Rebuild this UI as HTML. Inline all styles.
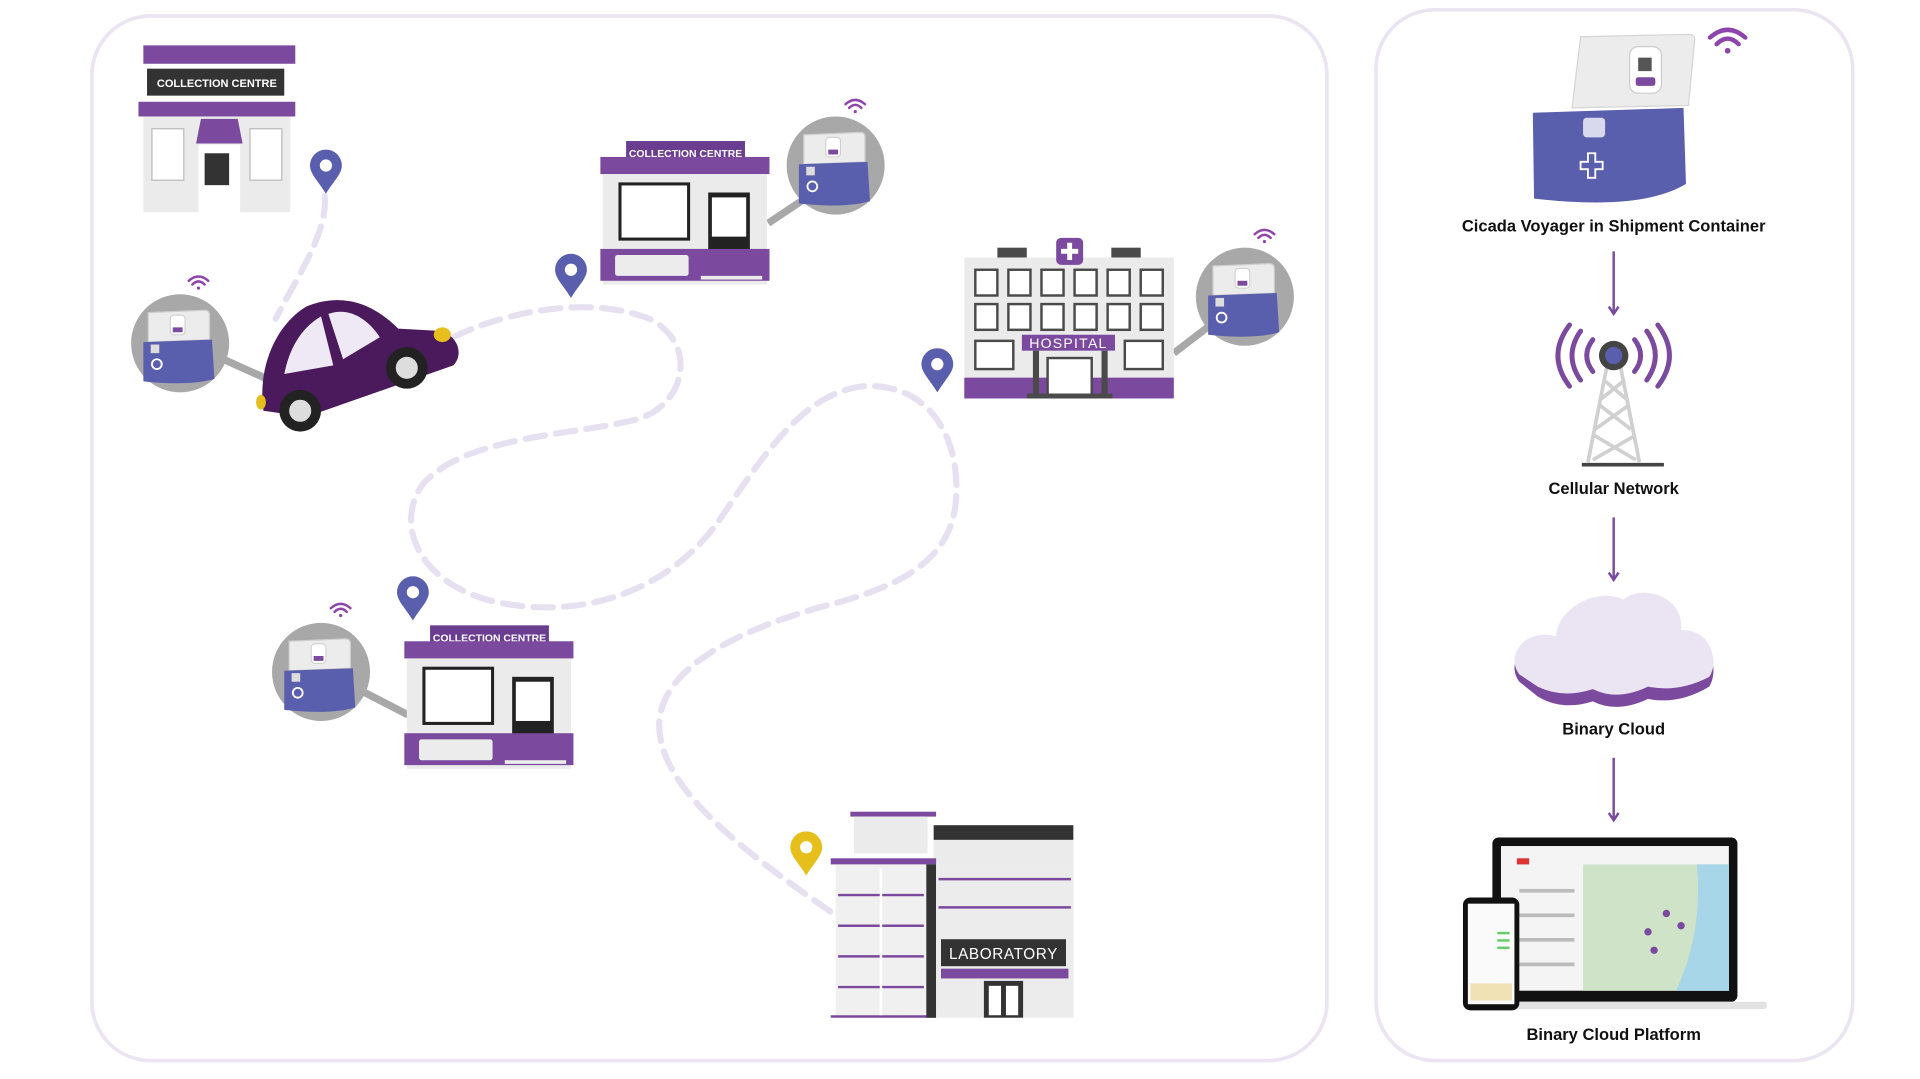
<!DOCTYPE html>
<html><head><meta charset="utf-8"><style>
html,body{margin:0;padding:0;background:#fff;width:1920px;height:1079px;overflow:hidden}
svg{display:block}
text{font-family:"Liberation Sans",sans-serif}
</style></head><body>
<svg width="1920" height="1079" viewBox="0 0 1567 880" preserveAspectRatio="none" xmlns="http://www.w3.org/2000/svg">
<defs>
<g id="box">
 <path d="M-24,-30 L22,-32 Q26,-32 26,-28 L26,-8 L-24,-6 Z" fill="#ececec" stroke="#cfcfcf" stroke-width="1"/>
 <rect x="-6" y="-28" width="12" height="16" rx="3" fill="#fff" stroke="#ccc" stroke-width="0.8"/>
 <rect x="-4" y="-18" width="8" height="4" fill="#7b4a9e"/>
 <path d="M-28,-6 L28,-8 L30,24 Q10,30 -28,26 Z" fill="#5a5fad"/>
 <rect x="-22" y="-4" width="7" height="7" fill="#ddd"/>
 <circle cx="-17" cy="12" r="4" fill="none" stroke="#fff" stroke-width="1.5"/>
</g>
<g id="wifi" fill="none" stroke="#8e44ad" stroke-width="2" stroke-linecap="round">
 <path d="M-8,-3 Q0,-10 8,-3"/><path d="M-5,0 Q0,-5 5,0"/><circle cx="0" cy="3" r="1.3" fill="#8e44ad" stroke="none"/>
</g>
<g id="pin"><path d="M0,18 C-6,8 -13,2 -13,-5 A13,13 0 0 1 13,-5 C13,2 6,8 0,18 Z"/><circle cx="0" cy="-5" r="5" fill="#fff"/></g>
<g id="cc">
 <rect x="21" y="0" width="97" height="18" fill="#6a3d91"/>
 <text x="69.5" y="13" font-size="8.5" fill="#fff" text-anchor="middle" font-weight="bold">COLLECTION CENTRE</text>
 <rect x="0" y="13" width="138" height="14" fill="#7b4a9e"/>
 <rect x="2" y="27" width="134" height="90" fill="#ebebeb"/>
 <rect x="16" y="35" width="56" height="45" fill="#fff" stroke="#222" stroke-width="2.5"/>
 <rect x="88" y="42" width="34" height="66" fill="#222"/>
 <rect x="91" y="46" width="28" height="32" fill="#fff"/>
 <rect x="0" y="88" width="138" height="26" fill="#7b4a9e"/>
 <rect x="12" y="93" width="60" height="17" rx="2" fill="#ececec"/>
 <rect x="82" y="110" width="50" height="3" fill="#ececec"/>
</g>
</defs>

<rect x="75" y="13" width="1008" height="852" rx="48" fill="none" stroke="#ebe5f3" stroke-width="3"/>
<rect x="1123" y="8" width="389" height="857" rx="48" fill="none" stroke="#ebe5f3" stroke-width="3"/>

<path d="M265,160 C268,190 240,230 225,260 M370,275 C410,255 480,240 530,260 C570,280 560,330 520,342 C470,355 380,355 345,395 C320,430 345,480 410,492 C480,505 550,480 590,420 C630,360 660,320 705,315 C760,312 785,360 780,410 C775,460 730,480 670,495 C600,515 540,545 538,590 C537,640 600,690 680,745"
 fill="none" stroke="#e6e0f0" stroke-width="5" stroke-dasharray="16 9" stroke-linecap="round"/>

<rect x="117" y="37" width="124" height="15" fill="#7b4a9e"/>
<rect x="120" y="56" width="112" height="22" fill="#333"/>
<text x="177" y="71" font-size="9" fill="#fff" text-anchor="middle" font-weight="bold">COLLECTION CENTRE</text>
<rect x="113" y="83" width="128" height="12" fill="#7b4a9e"/>
<rect x="117" y="95" width="120" height="78" fill="#ebebeb"/>
<rect x="124" y="105" width="26" height="42" fill="#fff" stroke="#bbb"/>
<rect x="204" y="105" width="26" height="42" fill="#fff" stroke="#bbb"/>
<path d="M160,117 L164,97 L194,97 L198,117 Z" fill="#7b4a9e"/>
<rect x="162" y="118" width="34" height="55" fill="#fff"/>
<rect x="167" y="125" width="20" height="26" fill="#333"/>

<use href="#pin" x="266" y="140" fill="#5a5fad"/>
<use href="#pin" x="466" y="225" fill="#5a5fad"/>
<use href="#pin" x="765" y="302" fill="#5a5fad"/>
<use href="#pin" x="337" y="488" fill="#5a5fad"/>
<use href="#pin" x="658" y="696" fill="#e6bf1c"/>

<line x1="180" y1="292" x2="220" y2="310" stroke="#a8a8a8" stroke-width="6"/>
<path d="M215,335 C210,300 225,265 250,250 C280,238 305,248 325,268 L360,270 C375,275 378,290 370,298 L250,340 Z" fill="#4a1a5c"/>
<path d="M232,305 C236,285 245,268 262,258 L272,298 Z" fill="#efe8f5"/>
<path d="M268,256 C285,250 300,260 310,275 L280,293 Z" fill="#efe8f5"/>
<circle cx="245" cy="335" r="17" fill="#222"/><circle cx="245" cy="335" r="9" fill="#ddd"/>
<circle cx="332" cy="300" r="17" fill="#222"/><circle cx="332" cy="300" r="9" fill="#ddd"/>
<ellipse cx="361" cy="273" rx="7" ry="6" fill="#e6bf1c"/>
<ellipse cx="213" cy="328" rx="4" ry="6" fill="#e6bf1c"/>

<circle cx="147" cy="280" r="40" fill="#a8a8a8"/><use href="#box" x="145" y="285"/><use href="#wifi" x="162" y="232"/>
<line x1="627" y1="182" x2="660" y2="160" stroke="#a8a8a8" stroke-width="6"/>
<circle cx="682" cy="135" r="40" fill="#a8a8a8"/><use href="#box" x="680" y="140"/><use href="#wifi" x="698" y="88"/>
<line x1="958" y1="288" x2="992" y2="262" stroke="#a8a8a8" stroke-width="6"/>
<circle cx="1016" cy="242" r="40" fill="#a8a8a8"/><use href="#box" x="1014" y="247"/><use href="#wifi" x="1032" y="194"/>
<line x1="298" y1="565" x2="333" y2="583" stroke="#a8a8a8" stroke-width="6"/>
<circle cx="262" cy="548" r="40" fill="#a8a8a8"/><use href="#box" x="260" y="553"/><use href="#wifi" x="278" y="499"/>

<use href="#cc" x="490" y="115"/>
<use href="#cc" x="330" y="510"/>

<rect x="814" y="202" width="24" height="9" fill="#4a4a4a"/>
<rect x="907" y="202" width="24" height="9" fill="#4a4a4a"/>
<rect x="787" y="210" width="171" height="115" fill="#ebebeb"/>
<rect x="862" y="194" width="22" height="22" rx="4" fill="#7b4a9e"/>
<path d="M873,198 v14 M866,205 h14" stroke="#fff" stroke-width="4"/>
<g fill="#fff" stroke="#4a4a4a" stroke-width="2">
<rect x="796" y="220" width="18" height="21"/><rect x="823" y="220" width="18" height="21"/><rect x="850" y="220" width="18" height="21"/><rect x="877" y="220" width="18" height="21"/><rect x="904" y="220" width="18" height="21"/><rect x="931" y="220" width="18" height="21"/>
<rect x="796" y="248" width="18" height="21"/><rect x="823" y="248" width="18" height="21"/><rect x="850" y="248" width="18" height="21"/><rect x="877" y="248" width="18" height="21"/><rect x="904" y="248" width="18" height="21"/><rect x="931" y="248" width="18" height="21"/>
<rect x="796" y="278" width="31" height="23"/><rect x="918" y="278" width="31" height="23"/>
</g>
<rect x="787" y="308" width="171" height="17" fill="#7b4a9e"/>
<rect x="834" y="273" width="76" height="13" fill="#7b4a9e"/>
<text x="872" y="284" font-size="11.5" fill="#fff" text-anchor="middle" letter-spacing="1">HOSPITAL</text>
<rect x="843" y="286" width="5" height="36" fill="#4a4a4a"/><rect x="899" y="286" width="5" height="36" fill="#4a4a4a"/>
<rect x="855" y="292" width="36" height="30" fill="#fff" stroke="#4a4a4a" stroke-width="2"/>
<rect x="838" y="321" width="70" height="4" fill="#4a4a4a"/>

<rect x="694" y="662" width="70" height="4" fill="#7b4a9e"/>
<rect x="697" y="666" width="60" height="30" fill="#ebebeb"/>
<rect x="762" y="673" width="114" height="12" fill="#333"/>
<rect x="762" y="685" width="114" height="20" fill="#ebebeb"/>
<rect x="678" y="700" width="86" height="5" fill="#7b4a9e"/>
<rect x="682" y="705" width="74" height="125" fill="#f0f0f0"/>
<g stroke="#7b4a9e" stroke-width="2"><line x1="684" y1="730" x2="754" y2="730"/><line x1="684" y1="755" x2="754" y2="755"/><line x1="684" y1="780" x2="754" y2="780"/><line x1="684" y1="805" x2="754" y2="805"/><line x1="678" y1="829" x2="764" y2="829"/></g>
<line x1="719" y1="708" x2="719" y2="828" stroke="#fff" stroke-width="2"/>
<rect x="756" y="705" width="8" height="125" fill="#333"/>
<rect x="764" y="705" width="112" height="125" fill="#ececec"/>
<g stroke="#7b4a9e" stroke-width="2"><line x1="766" y1="717" x2="874" y2="717"/><line x1="766" y1="740" x2="874" y2="740"/></g>
<rect x="768" y="766" width="102" height="22" fill="#333"/>
<text x="819" y="782" font-size="12.5" fill="#fff" text-anchor="middle" letter-spacing="0.5">LABORATORY</text>
<rect x="768" y="790" width="104" height="8" fill="#7b4a9e"/>
<rect x="803" y="800" width="32" height="30" fill="#333"/><rect x="807" y="804" width="10" height="24" fill="#fff"/><rect x="821" y="804" width="10" height="24" fill="#fff"/>

<g transform="translate(1410,36) scale(1.8)"><use href="#wifi"/></g>
<path d="M1290,30 L1378,28 Q1384,28 1383,34 L1378,86 L1283,88 Z" fill="#ececec" stroke="#d5d5d5"/>
<rect x="1330" y="38" width="26" height="38" rx="7" fill="#fff" stroke="#ccc"/>
<rect x="1337" y="47" width="11" height="11" fill="#555"/>
<rect x="1335" y="63" width="16" height="7" rx="2" fill="#7b4a9e"/>
<path d="M1251,92 L1374,88 L1376,150 Q1340,172 1252,162 Z" fill="#5a5fad"/>
<rect x="1292" y="96" width="18" height="16" rx="3" fill="#d9d9ee"/>
<path d="M1290,132 h6 v-7 h6 v7 h6 v6 h-6 v7 h-6 v-7 h-6 z" fill="none" stroke="#fff" stroke-width="1.5"/>
<text x="1317" y="189" font-size="13.5" font-weight="bold" fill="#111" text-anchor="middle">Cicada Voyager in Shipment Container</text>

<g stroke="#7b4a9e" stroke-width="2" fill="none">
<line x1="1317" y1="205" x2="1317" y2="256"/><path d="M1313,250 L1317,256 L1321,250"/>
<line x1="1317" y1="422" x2="1317" y2="473"/><path d="M1313,467 L1317,473 L1321,467"/>
<line x1="1317" y1="618" x2="1317" y2="669"/><path d="M1313,663 L1317,669 L1321,663"/>
</g>

<g stroke="#d0d0d0" stroke-width="3" fill="none">
<path d="M1312,296 L1296,377 M1322,296 L1338,377 M1309,310 L1328,326 M1326,310 L1306,326 M1305,330 L1331,350 M1330,330 L1302,350 M1301,355 L1335,375 M1335,355 L1300,375"/>
</g>
<line x1="1291" y1="379" x2="1358" y2="379" stroke="#444" stroke-width="3"/>
<circle cx="1317" cy="290" r="12" fill="#444"/><circle cx="1317" cy="290" r="7" fill="#5a5fad"/>
<g stroke="#7b4a9e" stroke-width="4" fill="none" stroke-linecap="round">
<path d="M1300,277 Q1290,290 1300,303"/><path d="M1290,270 Q1276,290 1290,310"/><path d="M1281,265 Q1262,290 1281,315"/>
<path d="M1334,277 Q1344,290 1334,303"/><path d="M1344,270 Q1358,290 1344,310"/><path d="M1353,265 Q1372,290 1353,315"/>
</g>
<text x="1317" y="403" font-size="13.5" font-weight="bold" fill="#111" text-anchor="middle">Cellular Network</text>

<path d="M1240,556 C1228,540 1245,518 1270,525 C1272,500 1305,485 1325,495 C1340,482 1375,492 1372,520 C1395,518 1404,545 1395,560 Q1370,575 1345,570 Q1320,582 1300,572 Q1275,580 1255,568 Z" fill="#7b4a9e"/>
<path d="M1240,550 C1228,534 1245,512 1270,519 C1272,494 1305,479 1325,489 C1340,476 1375,486 1372,514 C1395,512 1404,539 1395,552 Q1370,565 1345,560 Q1320,572 1300,562 Q1275,570 1255,560 Z" fill="#ebe5f3"/>
<text x="1317" y="599" font-size="13.5" font-weight="bold" fill="#111" text-anchor="middle">Binary Cloud</text>

<rect x="1218" y="683" width="200" height="134" rx="5" fill="#111"/>
<rect x="1225" y="690" width="186" height="118" fill="#f4f4f4"/>
<rect x="1292" y="705" width="119" height="103" fill="#cfe3c8"/>
<path d="M1385,705 L1411,705 L1411,808 L1368,808 Q1390,760 1385,705 Z" fill="#a6d6e8"/>
<g fill="#7b4a9e"><circle cx="1360" cy="745" r="3"/><circle cx="1345" cy="760" r="3"/><circle cx="1372" cy="755" r="3"/><circle cx="1350" cy="775" r="3"/></g>
<g fill="#bbb"><rect x="1240" y="725" width="45" height="3"/><rect x="1240" y="745" width="45" height="3"/><rect x="1240" y="765" width="45" height="3"/><rect x="1240" y="785" width="45" height="3"/></g>
<rect x="1238" y="700" width="10" height="5" fill="#d33"/>
<rect x="1210" y="817" width="232" height="6" rx="2" fill="#e3e3e3"/>
<rect x="1194" y="732" width="46" height="92" rx="6" fill="#111"/>
<rect x="1198" y="737" width="38" height="82" fill="#fafafa"/>
<rect x="1200" y="802" width="34" height="14" fill="#f1e2b5"/>
<g fill="#6c6"><rect x="1222" y="760" width="10" height="2"/><rect x="1222" y="766" width="10" height="2"/><rect x="1222" y="772" width="10" height="2"/></g>
<text x="1317" y="848" font-size="13.5" font-weight="bold" fill="#111" text-anchor="middle">Binary Cloud Platform</text>
</svg>
</body></html>
